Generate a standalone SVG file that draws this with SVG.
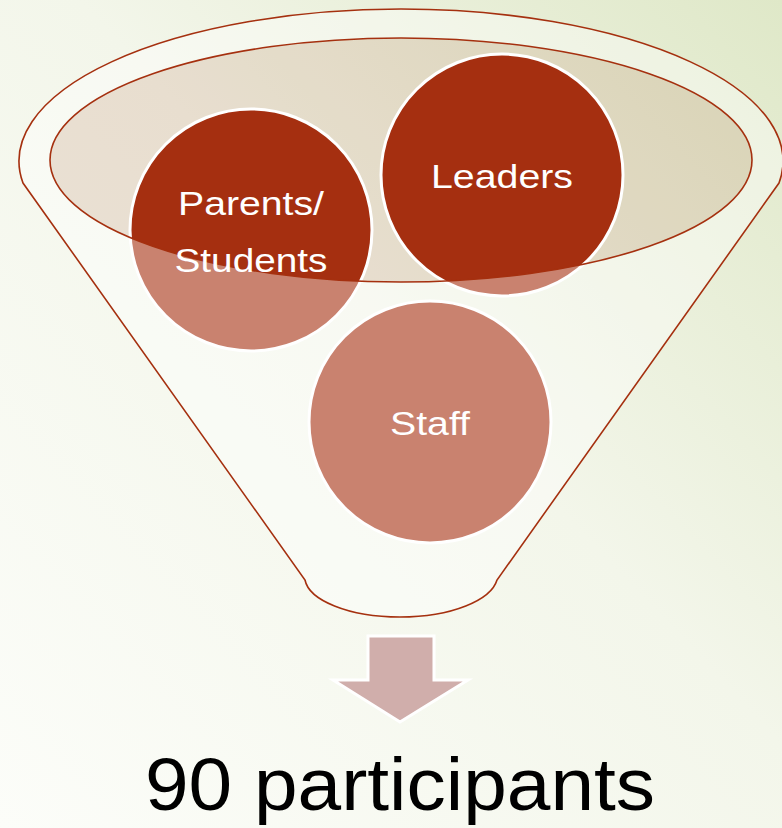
<svg xmlns="http://www.w3.org/2000/svg" width="782" height="828" viewBox="0 0 782 828">
  <defs>
    <linearGradient id="bg" x1="0" y1="1" x2="1" y2="0">
      <stop offset="0" stop-color="#fcfdf9"/>
      <stop offset="0.55" stop-color="#f3f6ea"/>
      <stop offset="1" stop-color="#dfe8c8"/>
    </linearGradient>
  </defs>
  <style>
    .circ { fill: #a52f10; stroke: #ffffff; stroke-width: 3; }
    .lbl { font-family: "Liberation Sans", Arial, sans-serif; fill: #ffffff; font-size: 34px; text-anchor: middle; }
    .outline { fill: none; stroke: #a5300f; stroke-width: 1.6; }
  </style>
  <rect x="0" y="0" width="782" height="828" fill="url(#bg)"/>

  <g id="funnel-inner">
    <ellipse cx="401" cy="160" rx="351" ry="122" fill="rgb(175,105,80)" fill-opacity="0.17"/>
  </g>

  <g id="node-parents">
    <circle class="circ" cx="251" cy="230" r="121"/>
  </g>
  <g id="node-leaders">
    <circle class="circ" cx="502" cy="175" r="121"/>
  </g>
  <g id="node-staff">
    <circle class="circ" cx="430" cy="422" r="121"/>
  </g>

  <g id="funnel">
    <path fill="#ffffff" fill-opacity="0.4" fill-rule="evenodd"
      d="M 23,183 A 382,152 0 1 1 779,183 L 497,580 C 491,600 452,617 400,617 C 348,617 309,600 305,580 Z
         M 50,160 A 351,122 0 1 0 752,160 A 351,122 0 1 0 50,160 Z"/>
    <path class="outline" d="M 23,183 A 382,152 0 1 1 779,183 L 497,580 C 491,600 452,617 400,617 C 348,617 309,600 305,580 Z"/>
    <ellipse class="outline" cx="401" cy="160" rx="351" ry="122"/>
  </g>

  <g id="labels">
    <text class="lbl" x="251" y="215" textLength="146" lengthAdjust="spacingAndGlyphs">Parents/</text>
    <text class="lbl" x="251" y="272" textLength="153" lengthAdjust="spacingAndGlyphs">Students</text>
    <text class="lbl" x="502" y="188" textLength="142" lengthAdjust="spacingAndGlyphs">Leaders</text>
    <text class="lbl" x="430" y="435" textLength="80" lengthAdjust="spacingAndGlyphs">Staff</text>
  </g>

  <g id="connectors">
    <path d="M 368,636 L 434,636 L 434,680 L 468,680 L 400,722 L 333,680 L 368,680 Z" fill="#d0aeab" stroke="#ffffff" stroke-width="3" stroke-linejoin="miter"/>
  </g>

  <g id="result">
    <text x="400" y="810" font-family="Liberation Sans, Arial, sans-serif" font-size="74" fill="#000000" text-anchor="middle" textLength="510" lengthAdjust="spacingAndGlyphs">90 participants</text>
  </g>
</svg>
